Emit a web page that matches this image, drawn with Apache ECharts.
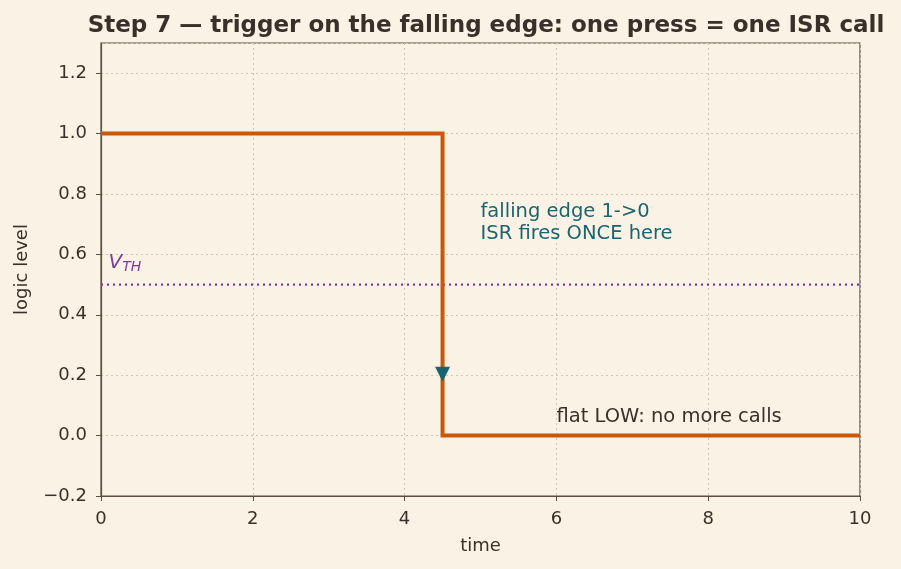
<!DOCTYPE html>
<html>
<head>
<meta charset="utf-8">
<script src="https://cdn.jsdelivr.net/npm/echarts@6/dist/echarts.min.js"></script>
<style>
  html, body { margin: 0; padding: 0; background: #faf2e4; }
  #chart { width: 901px; height: 569px; }
</style>
</head>
<body>
<div id="chart"></div>
<script>
// step signal: HIGH until the falling edge, then LOW
const signalX = [0, 4.5, 10]
const signalY = [1, 0, 0]
const thresholdY = 0.5
// annotations
const edgeNote = { x: 5.0, y: 0.63, text: 'falling edge 1->0\nISR fires ONCE here' }
const lowNote = { x: 6.0, y: 0.03, text: 'flat LOW: no more calls' }
const arrowTip = [4.5, 0.2]
const vthLabel = [0.1, 0.535]

const ink = '#3b3029'
const axisInk = '#5b4d3f'
const teal = '#1a6470'
const purple = '#7d3c98'
const font = 'DejaVu Sans'

// plain text label at a data point (no outline)
function noteLabel (extra) {
  return Object.assign({
    show: true, position: [0, 0], align: 'left', verticalAlign: 'bottom',
    fontFamily: font, textBorderWidth: 0, textBorderColor: 'transparent',
    textShadowBlur: 0, opacity: 1
  }, extra)
}

const chart = echarts.init(document.getElementById('chart'))
const option = {
  backgroundColor: '#faf2e4',
  animation: false,
  textStyle: { fontFamily: font },
  title: {
    text: 'Step 7 — trigger on the falling edge: one press = one ISR call',
    left: 481,
    textAlign: 'center',
    top: 10,
    textStyle: { fontFamily: font, fontSize: 23, fontWeight: 'bold', color: ink }
  },
  grid: {
    left: 101, right: 41, top: 43, bottom: 73,
    show: true, borderColor: axisInk, borderWidth: 1.2, backgroundColor: 'transparent'
  },
  xAxis: {
    type: 'value', min: 0, max: 10, interval: 2,
    name: 'time', nameLocation: 'middle', nameGap: 41,
    nameTextStyle: { fontSize: 18, color: ink },
    axisLine: { show: true, onZero: false, lineStyle: { color: axisInk, width: 1.2 } },
    axisTick: { show: true, length: 5, lineStyle: { color: axisInk } },
    axisLabel: { fontSize: 18, color: ink, margin: 14 },
    splitLine: { show: true, lineStyle: { color: '#cfc6b6', type: [2, 3], width: 1 } }
  },
  yAxis: {
    type: 'value', min: -0.2, max: 1.3, interval: 0.2,
    name: 'logic level', nameLocation: 'middle', nameGap: 70,
    nameTextStyle: { fontSize: 18, color: ink },
    axisLine: { show: true, lineStyle: { color: axisInk, width: 1.2 } },
    axisTick: { show: true, length: 5, lineStyle: { color: axisInk } },
    axisLabel: {
      fontSize: 18, color: ink, margin: 14,
      showMaxLabel: false,
      formatter: v => (v < 0 ? '\u2212' + Math.abs(v).toFixed(1) : v.toFixed(1))
    },
    splitLine: { show: true, lineStyle: { color: '#cfc6b6', type: [2, 3], width: 1 } }
  },
  series: [
    {
      // threshold line
      type: 'line',
      data: [[0, thresholdY], [10, thresholdY]],
      symbol: 'none',
      lineStyle: { color: purple, width: 2.2, type: [2, 4] },
      z: 2
    },
    {
      type: 'line',
      step: 'end',
      data: signalX.map((x, i) => [x, signalY[i]]),
      symbol: 'none',
      lineStyle: { color: '#c9580a', width: 4, join: 'miter' },
      z: 3
    },
    {
      // arrow head
      type: 'scatter',
      data: [arrowTip],
      symbol: 'triangle',
      symbolRotate: 180,
      symbolSize: [15, 15],
      symbolOffset: [0, -1],
      itemStyle: { color: teal, opacity: 1 },
      z: 4
    },
    {
      // text notes (scatter dims items to 0.8 by default, so force 1)
      type: 'scatter',
      symbolSize: 0,
      silent: true,
      itemStyle: { color: 'transparent', opacity: 1 },
      z: 5,
      data: [
        {
          value: [edgeNote.x, edgeNote.y],
          label: noteLabel({ formatter: edgeNote.text, fontSize: 19.5, lineHeight: 22, color: teal })
        },
        {
          value: [lowNote.x, lowNote.y],
          label: noteLabel({ formatter: lowNote.text, fontSize: 19.5, color: ink })
        },
        {
          value: vthLabel,
          label: noteLabel({
            formatter: '{v|V}{s|TH}',
            rich: {
              v: { fontSize: 20, fontStyle: 'italic', color: purple, fontFamily: font },
              s: { fontSize: 14, fontStyle: 'italic', color: purple, fontFamily: font, padding: [9, 0, 0, 0] }
            }
          })
        }
      ]
    }
  ]
}
chart.setOption(option)
</script>
</body>
</html>
